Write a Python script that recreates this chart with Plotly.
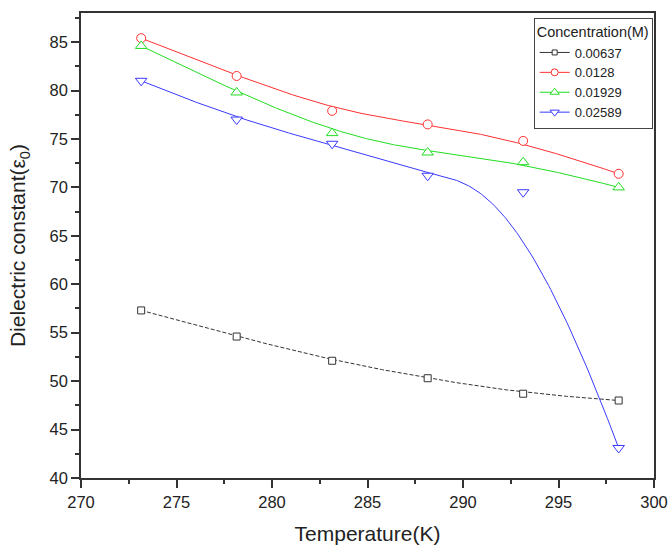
import numpy as np
import plotly.graph_objects as go

# ---- data ----
temperature = [273.15, 278.15, 283.15, 288.15, 293.15, 298.15]
conc_labels = ["0.00637", "0.0128", "0.01929", "0.02589"]
eps_00637 = [57.3, 54.6, 52.1, 50.3, 48.7, 48.0]
eps_0128 = [85.4, 81.5, 77.9, 76.5, 74.8, 71.4]
eps_01929 = [84.6, 79.8, 75.6, 73.6, 72.6, 70.0]
eps_02589 = [81.0, 77.0, 74.5, 71.2, 69.5, 43.1]

series = [eps_00637, eps_0128, eps_01929, eps_02589]
colors = ["#333333", "#ff3030", "#22dd22", "#3a3aff"]
symbols = ["square", "circle", "triangle-up", "triangle-down"]
msizes = [7, 9, 10, 10]
dashes = ["4px,2px", "solid", "solid", "solid"]


def bspline(xs, ys, n=300, k=3):
    """Clamped cubic B-spline using the data points as control points (Origin-style smoothing)."""
    P = np.column_stack([xs, ys]).astype(float)
    m = len(P)
    knots = np.concatenate([[0.0] * k, np.arange(m - k + 1, dtype=float), [float(m - k)] * k])

    def basis(i, d, t):
        if d == 0:
            return 1.0 if knots[i] <= t < knots[i + 1] else 0.0
        a = 0.0
        if knots[i + d] != knots[i]:
            a = (t - knots[i]) / (knots[i + d] - knots[i]) * basis(i, d - 1, t)
        b = 0.0
        if knots[i + d + 1] != knots[i + 1]:
            b = (knots[i + d + 1] - t) / (knots[i + d + 1] - knots[i + 1]) * basis(i + 1, d - 1, t)
        return a + b

    ts = np.linspace(0, m - k - 1e-9, n)
    pts = []
    for t in ts:
        w = np.array([basis(i, k, t) for i in range(m)])
        pts.append(w @ P)
    pts = np.array(pts)
    return pts[:, 0], pts[:, 1]


fig = go.Figure()

for ys, lab, c, s, ms, d in zip(series, conc_labels, colors, symbols, msizes, dashes):
    cx, cy = bspline(temperature, ys)
    fig.add_trace(go.Scatter(x=cx, y=cy, mode="lines", showlegend=False,
                             line=dict(color=c, width=1, dash=d), hoverinfo="skip"))
    fig.add_trace(go.Scatter(x=temperature, y=ys, mode="markers", showlegend=False,
                             marker=dict(symbol=s, size=ms, color="white",
                                         line=dict(color=c, width=1))))
    # legend entry
    fig.add_trace(go.Scatter(x=[None], y=[None], mode="lines+markers", name=lab,
                             line=dict(color=c, width=1),
                             marker=dict(symbol=s, size=ms - 2, color="white",
                                         line=dict(color=c, width=1))))

axis_common = dict(
    showline=True, linecolor="#333333", linewidth=1.5, mirror=True,
    ticks="outside", ticklen=8, tickwidth=1.5, tickcolor="#333333",
    showgrid=False, zeroline=False, automargin=False,
    tickfont=dict(size=16.5, color="#222222"),
)

fig.update_xaxes(range=[270, 300], tick0=270, dtick=5,
                 minor=dict(ticks="outside", ticklen=4, dtick=2.5, tickcolor="#333333", tickwidth=1.5),
                 title=dict(text="Temperature(K)", font=dict(size=21, color="#222222"), standoff=17),
                 **axis_common)
fig.update_yaxes(range=[40, 88], tick0=40, dtick=5,
                 minor=dict(ticks="outside", ticklen=4, dtick=2.5, tickcolor="#333333", tickwidth=1.5),
                 title=dict(text="Dielectric constant(ε<sub>0</sub>)", font=dict(size=21, color="#222222"), standoff=18),
                 **axis_common)

fig.update_layout(
    width=670, height=545,
    margin=dict(l=81, r=16, t=13, b=67),
    paper_bgcolor="white", plot_bgcolor="white",
    font=dict(family="Arial, Liberation Sans, sans-serif", color="#222222"),
    legend=dict(
        title=dict(text="Concentration(M)", font=dict(size=14.5)),
        x=0.79, y=0.99, xanchor="left", yanchor="top",
        bgcolor="white", bordercolor="#444444", borderwidth=1,
        font=dict(size=13), tracegroupgap=0, itemwidth=30,
    ),
)

fig.write_html("out.html", config={"displayModeBar": False},
               post_script="document.body.style.margin='0';")
